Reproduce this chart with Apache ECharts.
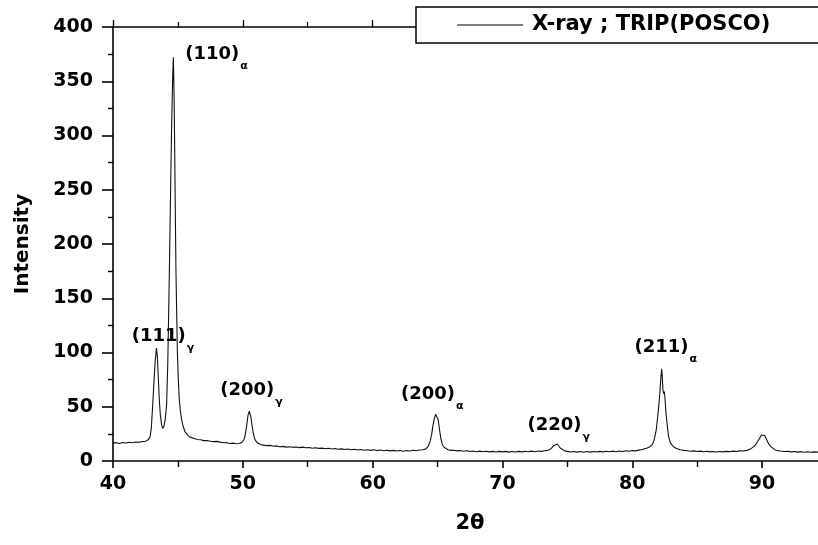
<!DOCTYPE html>
<html>
<head>
<meta charset="utf-8">
<script src="https://cdn.jsdelivr.net/npm/echarts@6/dist/echarts.min.js"></script>
<style>
html,body{margin:0;padding:0;background:#fff;}
#chart{width:818px;height:545px;}
</style>
</head>
<body>
<div id="chart"></div>
<script>
// 2θ positions (degrees)
const twoTheta = [
40.0,40.25,40.5,40.75,41.0,41.25,41.5,41.75,42.0,42.25,42.5,42.7,42.85,42.95,43.05,43.15,43.25,43.35,43.42,43.5,
43.57,43.65,43.75,43.83,43.92,44.02,44.13,44.22,44.34,44.45,44.52,44.6,44.65,44.7,44.75,44.8,44.85,44.9,44.96,45.03,
45.11,45.2,45.29,45.4,45.55,45.7,45.93,46.2,46.5,46.75,47.0,47.25,47.5,47.75,48.0,48.25,48.5,48.75,49.0,49.25,
49.5,49.75,49.95,50.1,50.2,50.3,50.4,50.5,50.56,50.63,50.72,50.8,50.9,51.0,51.15,51.35,51.6,51.85,52.1,52.35,
52.6,52.85,53.1,53.35,53.6,53.85,54.1,54.35,54.6,54.85,55.1,55.35,55.6,55.85,56.1,56.35,56.6,56.85,57.1,57.35,
57.6,57.85,58.1,58.35,58.6,58.85,59.1,59.35,59.6,59.85,60.1,60.35,60.6,60.85,61.1,61.35,61.6,61.85,62.1,62.35,
62.6,62.85,63.1,63.35,63.6,63.85,64.1,64.3,64.45,64.55,64.65,64.75,64.85,64.95,65.05,65.15,65.25,65.35,65.46,65.6,
65.8,66.0,66.25,66.5,66.75,67.0,67.25,67.5,67.75,68.0,68.25,68.5,68.75,69.0,69.25,69.5,69.75,70.0,70.25,70.5,
70.75,71.0,71.25,71.5,71.75,72.0,72.25,72.5,72.75,73.0,73.25,73.5,73.7,73.85,73.95,74.1,74.22,74.35,74.45,74.6,
74.8,75.0,75.25,75.5,75.75,76.0,76.25,76.5,76.75,77.0,77.25,77.5,77.75,78.0,78.25,78.5,78.75,79.0,79.25,79.5,
79.75,80.0,80.25,80.5,80.62,80.75,80.95,81.15,81.35,81.52,81.65,81.75,81.85,81.95,82.05,82.12,82.2,82.26,82.3,82.36,
82.42,82.47,82.52,82.58,82.64,82.72,82.8,82.9,83.0,83.18,83.4,83.7,84.0,84.21,84.5,84.75,85.0,85.25,85.5,85.75,
86.0,86.25,86.5,86.75,87.0,87.25,87.5,87.75,88.0,88.25,88.5,88.84,89.1,89.3,89.48,89.65,89.81,89.95,90.07,90.2,
90.3,90.38,90.5,90.65,90.77,91.0,91.2,91.41,91.7,92.0,92.25,92.5,92.75,93.0,93.25,93.5,93.75,94.0,94.35
];
// Intensity values
const intensity = [
16.5,16.9,16.2,17.0,16.6,17.3,16.8,17.5,17.2,17.9,18.2,19.5,22,30,50,72,92,104,96,74,
56,42,33,30,32,38,52,90,173,260,311,355,372,340,290,230,175,140,100,75,
56,45,38,32,27,24.5,22,21,19.8,19.6,18.8,18.9,18.2,17.9,18.1,17.4,16.8,16.9,16.2,16.5,
15.9,16.2,17.5,20,25,33,42,46,46,40,32,26,21,18.5,16.5,15.2,14.6,14.2,14.4,13.6,
13.9,13.1,13.5,12.8,13.2,12.6,12.9,12.3,12.8,12.2,12.5,11.8,12.2,11.6,11.9,11.3,11.7,11.0,11.5,10.8,
11.2,10.6,11.0,10.3,10.8,10.2,10.6,9.9,10.4,9.8,10.3,9.6,10.1,9.4,9.9,9.3,9.8,9.2,9.7,9.0,
9.6,9.2,9.9,9.4,10.1,10.4,11.2,14,19,25,33,39,43,44,38,29,21,16,13,11.5,
10.4,9.8,9.9,9.3,9.6,9.0,9.4,8.7,9.2,8.6,9.1,8.5,9.0,8.4,8.9,8.3,8.9,8.4,8.9,8.2,
8.8,8.3,8.9,8.4,9.0,8.5,9.1,8.6,9.2,8.9,9.4,9.8,11,12.8,14,15.2,15.7,14,12,10.2,
9.3,8.9,8.3,8.8,8.2,8.7,8.1,8.7,8.2,8.8,8.3,8.9,8.4,9.0,8.5,9.1,8.6,9.2,8.8,9.4,
9.0,9.6,9.3,10.0,9.7,10.6,11.2,12.0,13.2,14.7,18,23,29,40,52,62,76,85,80,66,
62,64,58,47,39,30,22.4,18,15.5,13.2,11.5,10.4,9.8,9.5,9.0,9.3,8.7,9.1,8.5,9.0,
8.4,8.8,8.3,8.8,8.4,8.9,8.6,9.1,8.8,9.3,9.2,9.8,11,12.8,14.7,17.8,21,24,25.5,23.5,
21,19.4,16,13.5,11.7,10.2,9.6,9.2,8.7,8.9,8.4,8.8,8.2,8.6,8.1,8.5,8.0,8.4,8.1
];
// Peak annotations (data coordinates of label centre)
const peakIndex = ['(111)', '(110)', '(200)', '(200)', '(220)', '(211)'];
const peakPhase = ['γ', 'α', 'γ', 'α', 'γ', 'α'];
const peakLabelX = [43.85, 47.98, 50.67, 64.59, 74.33, 82.58];
const peakLabelY = [115.2, 375.1, 65.4, 61.8, 33.2, 104.6];
const seriesName = 'X-ray ; TRIP(POSCO)';
const xName = '2θ';
const yName = 'Intensity';

const FONT = 'DejaVu Sans';
const chart = echarts.init(document.getElementById('chart'), null, {renderer: 'canvas'});

const lineData = twoTheta.map((x, i) => [x, intensity[i]]);
const marks = peakIndex.map((t, i) => ({
  coord: [peakLabelX[i], peakLabelY[i]],
  value: t,
  label: {formatter: '{m|' + t + '}{s|' + peakPhase[i] + '}'}
}));

const axisLineStyle = {color: '#000', width: 1.6};

chart.setOption({
  animation: false,
  backgroundColor: '#fff',
  grid: {left: 113, top: 27, right: -9, bottom: 84, containLabel: false, outerBoundsMode: 'none'},
  legend: {
    show: true,
    data: [{name: seriesName, icon: 'rect'}],
    left: 416,
    top: 7,
    padding: [7, 60, 7, 41],
    itemWidth: 66,
    itemHeight: 1.2,
    itemStyle: {color: '#000', borderWidth: 0},
    backgroundColor: '#fff',
    borderColor: '#000',
    borderWidth: 1.5,
    borderRadius: 0,
    textStyle: {fontFamily: FONT, fontWeight: 'bold', fontSize: 21, lineHeight: 22, color: '#000', padding: [0, 0, 0, 4]}
  },
  xAxis: [{
    type: 'value',
    min: 40, max: 95, interval: 10,
    name: xName,
    nameLocation: 'middle',
    nameGap: 52,
    nameTextStyle: {fontFamily: FONT, fontWeight: 'bold', fontSize: 21, color: '#000'},
    axisLine: {show: true, onZero: false, lineStyle: axisLineStyle},
    axisTick: {show: true, inside: false, length: 7, lineStyle: {color: '#000', width: 1.6}},
    minorTick: {show: true, splitNumber: 2, length: 6, lineStyle: {color: '#000', width: 1.4}},
    axisLabel: {
      show: true, margin: 14,
      fontFamily: FONT, fontWeight: 'bold', fontSize: 19, color: '#000',
      formatter: v => (v % 10 === 0 && v <= 90) ? String(v) : ''
    },
    splitLine: {show: false}
  }, {
    type: 'value',
    position: 'top',
    min: 40, max: 95, interval: 10,
    axisLine: {show: true, onZero: false, lineStyle: axisLineStyle},
    axisTick: {show: true, inside: false, length: 7, lineStyle: {color: '#000', width: 1.4}},
    minorTick: {show: true, splitNumber: 2, length: 5, lineStyle: {color: '#000', width: 1.2}},
    axisLabel: {show: false},
    splitLine: {show: false}
  }],
  yAxis: {
    type: 'value',
    min: 0, max: 400, interval: 50,
    name: yName,
    nameLocation: 'middle',
    nameGap: 80,
    nameRotate: 90,
    nameTextStyle: {fontFamily: FONT, fontWeight: 'bold', fontSize: 20, color: '#000'},
    axisLine: {show: true, onZero: false, lineStyle: axisLineStyle},
    axisTick: {show: true, inside: false, length: 11, lineStyle: {color: '#000', width: 1.6}},
    minorTick: {show: true, splitNumber: 2, length: 5, lineStyle: {color: '#000', width: 1.4}},
    axisLabel: {show: true, margin: 20, fontFamily: FONT, fontWeight: 'bold', fontSize: 19, color: '#000'},
    splitLine: {show: false}
  },
  series: [{
    name: seriesName,
    type: 'line',
    xAxisIndex: 0,
    data: lineData,
    showSymbol: false,
    symbol: 'none',
    smooth: false,
    lineStyle: {color: '#111', width: 1.1},
    itemStyle: {color: '#111'},
    markPoint: {
      symbol: 'circle',
      symbolSize: 1,
      itemStyle: {color: 'rgba(0,0,0,0)'},
      silent: true,
      label: {
        show: true,
        position: 'inside',
        color: '#000',
        rich: {
          m: {fontFamily: FONT, fontWeight: 'bold', fontSize: 18, color: '#000'},
          s: {fontFamily: FONT, fontWeight: 'bold', fontSize: 11, color: '#000', padding: [24, 0, 0, 1]}
        }
      },
      data: marks
    }
  }]
});
</script>
</body>
</html>
